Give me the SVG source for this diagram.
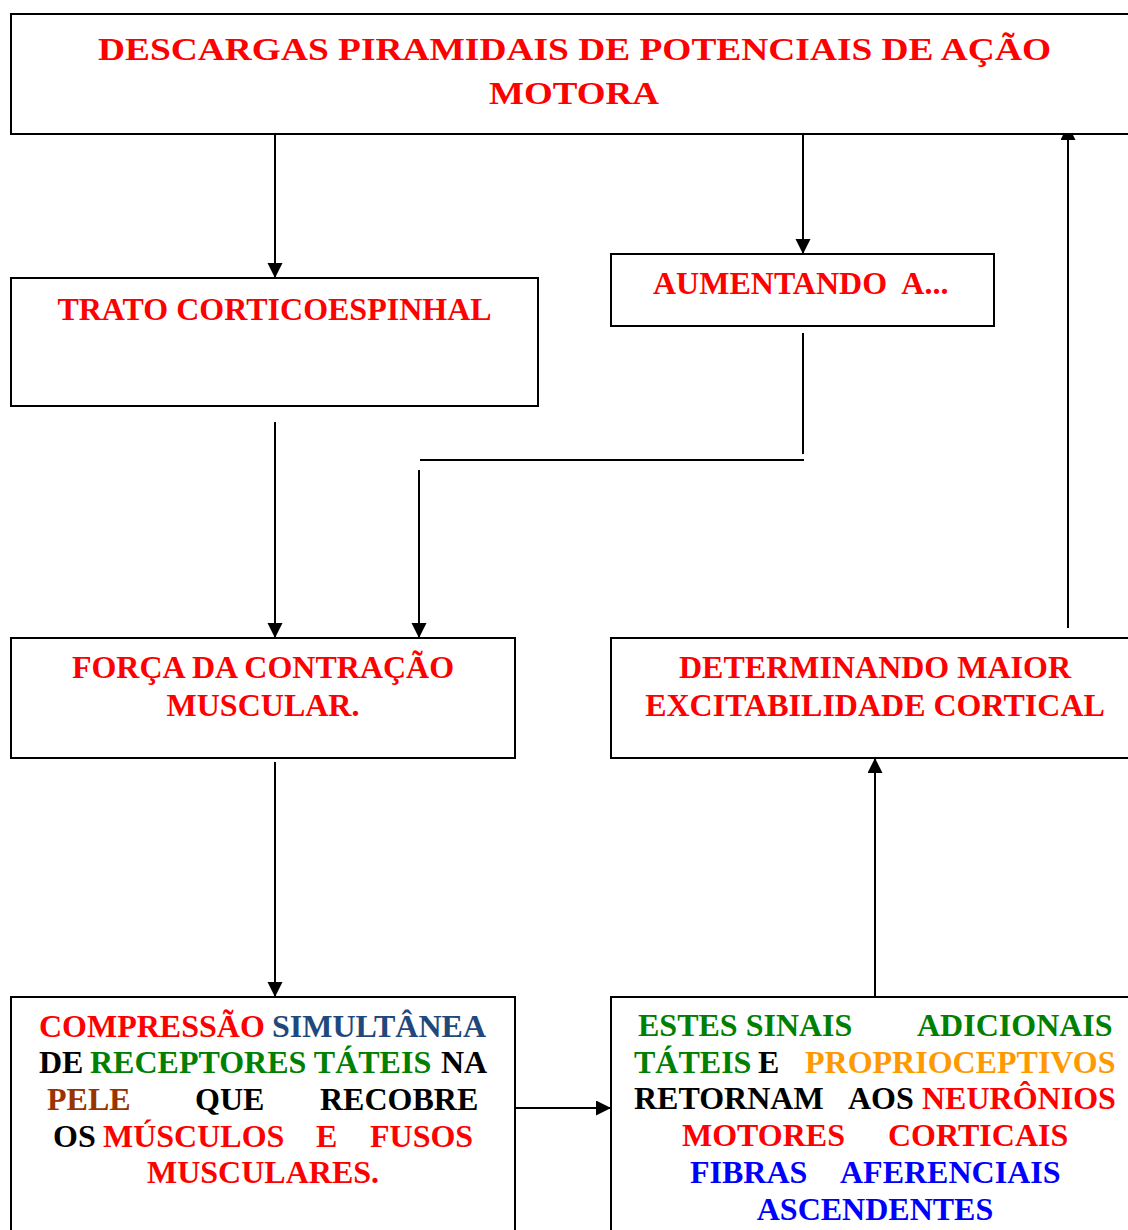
<svg xmlns="http://www.w3.org/2000/svg" width="1128" height="1230" viewBox="0 0 1128 1230">
  <style>
    .box { fill: #ffffff; stroke: #000000; stroke-width: 2; }
    .wire { fill: none; stroke: #000000; stroke-width: 2; }
    text { font-family: "Liberation Serif", "Times New Roman", serif; font-weight: bold; font-size: 32px; }
    .mid { text-anchor: middle; }
    .red { fill: #ff0000; }
    .grn { fill: #008000; }
    .blu { fill: #0000ff; }
    .nav { fill: #1f497d; }
    .org { fill: #ff9900; }
    .brn { fill: #993300; }
    .blk { fill: #000000; }
  </style>
  <defs>
    <marker id="head" markerUnits="userSpaceOnUse" markerWidth="16" markerHeight="16" refX="15" refY="7.5" orient="auto">
      <path d="M0,0 L15,7.5 L0,15 Z" fill="#000000"/>
    </marker>
  </defs>
  <rect width="1128" height="1230" fill="#ffffff"/>

  <!-- connectors -->
  <g id="connectors">
    <line class="wire" x1="275" y1="134" x2="275" y2="278" marker-end="url(#head)"/>
    <line class="wire" x1="803" y1="134" x2="803" y2="254" marker-end="url(#head)"/>
    <line class="wire" x1="803" y1="333" x2="803" y2="454"/>
    <line class="wire" x1="420" y1="460" x2="804" y2="460"/>
    <line class="wire" x1="419" y1="470" x2="419" y2="638" marker-end="url(#head)"/>
    <line class="wire" x1="275" y1="422" x2="275" y2="638" marker-end="url(#head)"/>
    <line class="wire" x1="275" y1="762" x2="275" y2="997" marker-end="url(#head)"/>
    <line class="wire" x1="516" y1="1108" x2="611" y2="1108" marker-end="url(#head)"/>
    <line class="wire" x1="875" y1="997" x2="875" y2="758" marker-end="url(#head)"/>
    <line class="wire" x1="1068" y1="628" x2="1068" y2="125" marker-end="url(#head)"/>
  </g>

  <!-- top: pyramidal discharges -->
  <g id="descargas">
    <rect class="box" x="11" y="14" width="1126" height="120"/>
    <text class="red" x="98" y="60" font-size="40" textLength="953" lengthAdjust="spacingAndGlyphs">DESCARGAS PIRAMIDAIS DE POTENCIAIS DE AÇÃO</text>
    <text class="red" x="489" y="104" font-size="40" textLength="170" lengthAdjust="spacingAndGlyphs">MOTORA</text>
  </g>

  <g id="trato">
    <rect class="box" x="11" y="278" width="527" height="128"/>
    <text class="red mid" x="274.5" y="320">TRATO CORTICOESPINHAL</text>
  </g>

  <g id="aumentando">
    <rect class="box" x="611" y="254" width="383" height="72"/>
    <text class="red" x="653" y="294" xml:space="preserve">AUMENTANDO  A...</text>
  </g>

  <g id="forca">
    <rect class="box" x="11" y="638" width="504" height="120"/>
    <text class="red mid" x="263" y="678">FORÇA DA CONTRAÇÃO</text>
    <text class="red mid" x="263" y="716">MUSCULAR.</text>
  </g>

  <g id="determinando">
    <rect class="box" x="611" y="638" width="526" height="120"/>
    <text class="red mid" x="875" y="678">DETERMINANDO MAIOR</text>
    <text class="red mid" x="875" y="716">EXCITABILIDADE CORTICAL</text>
  </g>

  <g id="compressao">
    <rect class="box" x="11" y="997" width="504" height="250"/>
    <text y="1037"><tspan class="red" x="39">COMPRESSÃO</tspan><tspan class="nav" x="272">SIMULTÂNEA</tspan></text>
    <text y="1073"><tspan class="blk" x="39">DE</tspan><tspan class="grn" x="90">RECEPTORES TÁTEIS</tspan><tspan class="blk" x="441">NA</tspan></text>
    <text y="1110"><tspan class="brn" x="47">PELE</tspan><tspan class="blk" x="195">QUE</tspan><tspan class="blk" x="320">RECOBRE</tspan></text>
    <text y="1147"><tspan class="blk" x="53">OS</tspan><tspan class="red" x="103">MÚSCULOS</tspan><tspan class="red" x="316">E</tspan><tspan class="red" x="370">FUSOS</tspan></text>
    <text class="red mid" x="263" y="1183">MUSCULARES.</text>
  </g>

  <g id="sinais">
    <rect class="box" x="611" y="997" width="526" height="250"/>
    <text y="1036"><tspan class="grn" x="638">ESTES SINAIS</tspan><tspan class="grn" x="917">ADICIONAIS</tspan></text>
    <text y="1073"><tspan class="grn" x="634">TÁTEIS</tspan><tspan class="blk" x="758">E</tspan><tspan class="org" x="805">PROPRIOCEPTIVOS</tspan></text>
    <text y="1109"><tspan class="blk" x="634">RETORNAM</tspan><tspan class="blk" x="848">AOS</tspan><tspan class="red" x="922">NEURÔNIOS</tspan></text>
    <text y="1146"><tspan class="red" x="682">MOTORES</tspan><tspan class="red" x="888">CORTICAIS</tspan></text>
    <text y="1183"><tspan class="blu" x="690">FIBRAS</tspan><tspan class="blu" x="840">AFERENCIAIS</tspan></text>
    <text class="blu mid" x="875" y="1220">ASCENDENTES</text>
  </g>
</svg>
